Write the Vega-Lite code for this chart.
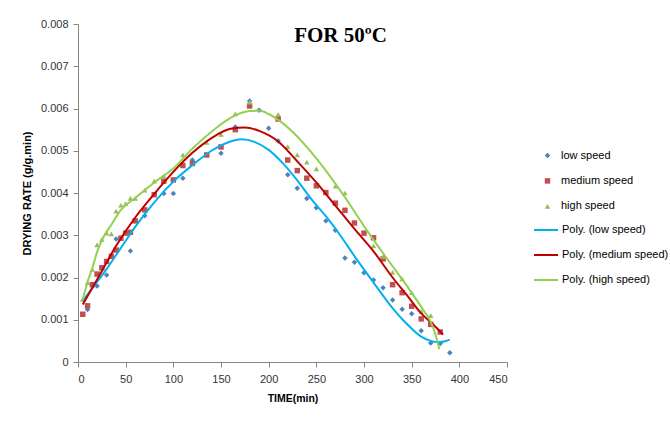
{
  "$schema": "https://vega.github.io/schema/vega-lite/v6.json",
  "width": 429,
  "height": 338,
  "autosize": {"type": "none"},
  "padding": {"left": 78, "top": 24, "right": 163, "bottom": 59},
  "background": "white",
  "title": {
    "text": "FOR 50ºC",
    "font": "Liberation Serif",
    "fontSize": 21,
    "fontWeight": "bold",
    "color": "#000000",
    "anchor": "middle",
    "frame": "group",
    "dx": 48,
    "dy": 32
  },
  "datasets": {
    "points": [
      {"speed": "low speed", "time": 10, "rate": 0.00124},
      {"speed": "low speed", "time": 20, "rate": 0.00180},
      {"speed": "low speed", "time": 30, "rate": 0.00206},
      {"speed": "low speed", "time": 40, "rate": 0.00291},
      {"speed": "low speed", "time": 55, "rate": 0.00263},
      {"speed": "low speed", "time": 70, "rate": 0.00346},
      {"speed": "low speed", "time": 90, "rate": 0.00399},
      {"speed": "low speed", "time": 100, "rate": 0.00399},
      {"speed": "low speed", "time": 110, "rate": 0.00435},
      {"speed": "low speed", "time": 120, "rate": 0.00478},
      {"speed": "low speed", "time": 150, "rate": 0.00494},
      {"speed": "low speed", "time": 165, "rate": 0.00556},
      {"speed": "low speed", "time": 180, "rate": 0.00618},
      {"speed": "low speed", "time": 190, "rate": 0.00596},
      {"speed": "low speed", "time": 200, "rate": 0.00553},
      {"speed": "low speed", "time": 210, "rate": 0.00523},
      {"speed": "low speed", "time": 220, "rate": 0.00443},
      {"speed": "low speed", "time": 230, "rate": 0.00411},
      {"speed": "low speed", "time": 240, "rate": 0.00387},
      {"speed": "low speed", "time": 250, "rate": 0.00365},
      {"speed": "low speed", "time": 260, "rate": 0.00334},
      {"speed": "low speed", "time": 270, "rate": 0.00312},
      {"speed": "low speed", "time": 280, "rate": 0.00246},
      {"speed": "low speed", "time": 290, "rate": 0.00236},
      {"speed": "low speed", "time": 300, "rate": 0.00211},
      {"speed": "low speed", "time": 310, "rate": 0.00194},
      {"speed": "low speed", "time": 320, "rate": 0.00176},
      {"speed": "low speed", "time": 330, "rate": 0.00147},
      {"speed": "low speed", "time": 340, "rate": 0.00125},
      {"speed": "low speed", "time": 350, "rate": 0.00114},
      {"speed": "low speed", "time": 360, "rate": 0.00074},
      {"speed": "low speed", "time": 370, "rate": 0.00045},
      {"speed": "low speed", "time": 380, "rate": 0.00044},
      {"speed": "low speed", "time": 390, "rate": 0.00022},

      {"speed": "medium speed", "time": 5, "rate": 0.00113},
      {"speed": "medium speed", "time": 10, "rate": 0.00133},
      {"speed": "medium speed", "time": 15, "rate": 0.00183},
      {"speed": "medium speed", "time": 20, "rate": 0.00208},
      {"speed": "medium speed", "time": 25, "rate": 0.00223},
      {"speed": "medium speed", "time": 30, "rate": 0.00238},
      {"speed": "medium speed", "time": 35, "rate": 0.00250},
      {"speed": "medium speed", "time": 40, "rate": 0.00265},
      {"speed": "medium speed", "time": 45, "rate": 0.00293},
      {"speed": "medium speed", "time": 50, "rate": 0.00305},
      {"speed": "medium speed", "time": 55, "rate": 0.00307},
      {"speed": "medium speed", "time": 60, "rate": 0.00334},
      {"speed": "medium speed", "time": 70, "rate": 0.00360},
      {"speed": "medium speed", "time": 80, "rate": 0.00396},
      {"speed": "medium speed", "time": 90, "rate": 0.00428},
      {"speed": "medium speed", "time": 100, "rate": 0.00431},
      {"speed": "medium speed", "time": 110, "rate": 0.00465},
      {"speed": "medium speed", "time": 120, "rate": 0.00470},
      {"speed": "medium speed", "time": 135, "rate": 0.00490},
      {"speed": "medium speed", "time": 150, "rate": 0.00509},
      {"speed": "medium speed", "time": 165, "rate": 0.00550},
      {"speed": "medium speed", "time": 180, "rate": 0.00606},
      {"speed": "medium speed", "time": 210, "rate": 0.00575},
      {"speed": "medium speed", "time": 220, "rate": 0.00478},
      {"speed": "medium speed", "time": 230, "rate": 0.00453},
      {"speed": "medium speed", "time": 240, "rate": 0.00435},
      {"speed": "medium speed", "time": 250, "rate": 0.00417},
      {"speed": "medium speed", "time": 260, "rate": 0.00401},
      {"speed": "medium speed", "time": 270, "rate": 0.00376},
      {"speed": "medium speed", "time": 280, "rate": 0.00359},
      {"speed": "medium speed", "time": 290, "rate": 0.00329},
      {"speed": "medium speed", "time": 300, "rate": 0.00305},
      {"speed": "medium speed", "time": 310, "rate": 0.00294},
      {"speed": "medium speed", "time": 320, "rate": 0.00244},
      {"speed": "medium speed", "time": 330, "rate": 0.00183},
      {"speed": "medium speed", "time": 340, "rate": 0.00164},
      {"speed": "medium speed", "time": 350, "rate": 0.00132},
      {"speed": "medium speed", "time": 360, "rate": 0.00102},
      {"speed": "medium speed", "time": 370, "rate": 0.00089},
      {"speed": "medium speed", "time": 380, "rate": 0.00071},

      {"speed": "high speed", "time": 5, "rate": 0.00148},
      {"speed": "high speed", "time": 10, "rate": 0.00188},
      {"speed": "high speed", "time": 15, "rate": 0.00219},
      {"speed": "high speed", "time": 20, "rate": 0.00277},
      {"speed": "high speed", "time": 25, "rate": 0.00290},
      {"speed": "high speed", "time": 30, "rate": 0.00305},
      {"speed": "high speed", "time": 35, "rate": 0.00303},
      {"speed": "high speed", "time": 40, "rate": 0.00357},
      {"speed": "high speed", "time": 45, "rate": 0.00371},
      {"speed": "high speed", "time": 50, "rate": 0.00375},
      {"speed": "high speed", "time": 55, "rate": 0.00387},
      {"speed": "high speed", "time": 60, "rate": 0.00387},
      {"speed": "high speed", "time": 70, "rate": 0.00407},
      {"speed": "high speed", "time": 80, "rate": 0.00428},
      {"speed": "high speed", "time": 90, "rate": 0.00440},
      {"speed": "high speed", "time": 110, "rate": 0.00490},
      {"speed": "high speed", "time": 135, "rate": 0.00520},
      {"speed": "high speed", "time": 150, "rate": 0.00539},
      {"speed": "high speed", "time": 165, "rate": 0.00587},
      {"speed": "high speed", "time": 180, "rate": 0.00615},
      {"speed": "high speed", "time": 210, "rate": 0.00586},
      {"speed": "high speed", "time": 220, "rate": 0.00510},
      {"speed": "high speed", "time": 230, "rate": 0.00490},
      {"speed": "high speed", "time": 240, "rate": 0.00473},
      {"speed": "high speed", "time": 250, "rate": 0.00457},
      {"speed": "high speed", "time": 270, "rate": 0.00416},
      {"speed": "high speed", "time": 280, "rate": 0.00400},
      {"speed": "high speed", "time": 310, "rate": 0.00275},
      {"speed": "high speed", "time": 320, "rate": 0.00250},
      {"speed": "high speed", "time": 330, "rate": 0.00212},
      {"speed": "high speed", "time": 340, "rate": 0.00197},
      {"speed": "high speed", "time": 350, "rate": 0.00164},
      {"speed": "high speed", "time": 360, "rate": 0.00120},
      {"speed": "high speed", "time": 370, "rate": 0.00110}
    ],
    "trends": [
      {"trend": "Poly. (low speed)", "time": 5, "rate": 0.00145},
      {"trend": "Poly. (low speed)", "time": 15, "rate": 0.00175},
      {"trend": "Poly. (low speed)", "time": 30, "rate": 0.00220},
      {"trend": "Poly. (low speed)", "time": 45, "rate": 0.00270},
      {"trend": "Poly. (low speed)", "time": 60, "rate": 0.00320},
      {"trend": "Poly. (low speed)", "time": 80, "rate": 0.00378},
      {"trend": "Poly. (low speed)", "time": 100, "rate": 0.00427},
      {"trend": "Poly. (low speed)", "time": 120, "rate": 0.00466},
      {"trend": "Poly. (low speed)", "time": 140, "rate": 0.00500},
      {"trend": "Poly. (low speed)", "time": 160, "rate": 0.00522},
      {"trend": "Poly. (low speed)", "time": 172, "rate": 0.00527},
      {"trend": "Poly. (low speed)", "time": 185, "rate": 0.00521},
      {"trend": "Poly. (low speed)", "time": 200, "rate": 0.00502},
      {"trend": "Poly. (low speed)", "time": 215, "rate": 0.00470},
      {"trend": "Poly. (low speed)", "time": 230, "rate": 0.00430},
      {"trend": "Poly. (low speed)", "time": 245, "rate": 0.00385},
      {"trend": "Poly. (low speed)", "time": 260, "rate": 0.00345},
      {"trend": "Poly. (low speed)", "time": 275, "rate": 0.00300},
      {"trend": "Poly. (low speed)", "time": 292, "rate": 0.00244},
      {"trend": "Poly. (low speed)", "time": 310, "rate": 0.00188},
      {"trend": "Poly. (low speed)", "time": 327, "rate": 0.00136},
      {"trend": "Poly. (low speed)", "time": 345, "rate": 0.00090},
      {"trend": "Poly. (low speed)", "time": 360, "rate": 0.00060},
      {"trend": "Poly. (low speed)", "time": 370, "rate": 0.00050},
      {"trend": "Poly. (low speed)", "time": 378, "rate": 0.00047},
      {"trend": "Poly. (low speed)", "time": 385, "rate": 0.00049},
      {"trend": "Poly. (low speed)", "time": 390, "rate": 0.00053},

      {"trend": "Poly. (medium speed)", "time": 5, "rate": 0.00136},
      {"trend": "Poly. (medium speed)", "time": 20, "rate": 0.00195},
      {"trend": "Poly. (medium speed)", "time": 40, "rate": 0.00275},
      {"trend": "Poly. (medium speed)", "time": 60, "rate": 0.00342},
      {"trend": "Poly. (medium speed)", "time": 80, "rate": 0.00398},
      {"trend": "Poly. (medium speed)", "time": 100, "rate": 0.00450},
      {"trend": "Poly. (medium speed)", "time": 120, "rate": 0.00495},
      {"trend": "Poly. (medium speed)", "time": 140, "rate": 0.00530},
      {"trend": "Poly. (medium speed)", "time": 160, "rate": 0.00552},
      {"trend": "Poly. (medium speed)", "time": 175, "rate": 0.00555},
      {"trend": "Poly. (medium speed)", "time": 190, "rate": 0.00547},
      {"trend": "Poly. (medium speed)", "time": 210, "rate": 0.00522},
      {"trend": "Poly. (medium speed)", "time": 230, "rate": 0.00475},
      {"trend": "Poly. (medium speed)", "time": 250, "rate": 0.00425},
      {"trend": "Poly. (medium speed)", "time": 270, "rate": 0.00370},
      {"trend": "Poly. (medium speed)", "time": 290, "rate": 0.00315},
      {"trend": "Poly. (medium speed)", "time": 310, "rate": 0.00262},
      {"trend": "Poly. (medium speed)", "time": 330, "rate": 0.00200},
      {"trend": "Poly. (medium speed)", "time": 345, "rate": 0.00158},
      {"trend": "Poly. (medium speed)", "time": 360, "rate": 0.00115},
      {"trend": "Poly. (medium speed)", "time": 372, "rate": 0.00090},
      {"trend": "Poly. (medium speed)", "time": 383, "rate": 0.00065},

      {"trend": "Poly. (high speed)", "time": 5, "rate": 0.00148},
      {"trend": "Poly. (high speed)", "time": 10, "rate": 0.00190},
      {"trend": "Poly. (high speed)", "time": 15, "rate": 0.00222},
      {"trend": "Poly. (high speed)", "time": 20, "rate": 0.00260},
      {"trend": "Poly. (high speed)", "time": 27, "rate": 0.00297},
      {"trend": "Poly. (high speed)", "time": 35, "rate": 0.00325},
      {"trend": "Poly. (high speed)", "time": 45, "rate": 0.00360},
      {"trend": "Poly. (high speed)", "time": 60, "rate": 0.00388},
      {"trend": "Poly. (high speed)", "time": 80, "rate": 0.00425},
      {"trend": "Poly. (high speed)", "time": 100, "rate": 0.00458},
      {"trend": "Poly. (high speed)", "time": 120, "rate": 0.00505},
      {"trend": "Poly. (high speed)", "time": 140, "rate": 0.00545},
      {"trend": "Poly. (high speed)", "time": 160, "rate": 0.00578},
      {"trend": "Poly. (high speed)", "time": 180, "rate": 0.00594},
      {"trend": "Poly. (high speed)", "time": 190, "rate": 0.00595},
      {"trend": "Poly. (high speed)", "time": 200, "rate": 0.00587},
      {"trend": "Poly. (high speed)", "time": 212, "rate": 0.00570},
      {"trend": "Poly. (high speed)", "time": 225, "rate": 0.00545},
      {"trend": "Poly. (high speed)", "time": 250, "rate": 0.00482},
      {"trend": "Poly. (high speed)", "time": 280, "rate": 0.00390},
      {"trend": "Poly. (high speed)", "time": 305, "rate": 0.00305},
      {"trend": "Poly. (high speed)", "time": 325, "rate": 0.00242},
      {"trend": "Poly. (high speed)", "time": 345, "rate": 0.00180},
      {"trend": "Poly. (high speed)", "time": 362, "rate": 0.00124},
      {"trend": "Poly. (high speed)", "time": 370, "rate": 0.00095},
      {"trend": "Poly. (high speed)", "time": 375, "rate": 0.00065},
      {"trend": "Poly. (high speed)", "time": 379, "rate": 0.00030}
    ]
  },
  "encoding": {
    "x": {
      "field": "time",
      "type": "quantitative",
      "scale": {"domain": [0, 450], "nice": false, "zero": false},
      "axis": {
        "values": [0, 50, 100, 150, 200, 250, 300, 350, 400, 450],
        "title": "TIME(min)",
        "labelPadding": 6,
        "titlePadding": 9
      }
    },
    "y": {
      "field": "rate",
      "type": "quantitative",
      "scale": {"domain": [0, 0.008], "nice": false},
      "axis": {
        "values": [0, 0.001, 0.002, 0.003, 0.004, 0.005, 0.006, 0.007, 0.008],
        "format": ".3~f",
        "title": "DRYING RATE (g/g.min)",
        "titleFontSize": 11,
        "labelPadding": 5,
        "titlePadding": 8
      }
    }
  },
  "layer": [
    {
      "data": {"name": "points"},
      "mark": {"type": "point", "filled": true, "size": 30, "opacity": 1},
      "encoding": {
        "color": {
          "field": "speed",
          "type": "nominal",
          "scale": {
            "domain": ["low speed", "medium speed", "high speed"],
            "range": ["#4F81BD", "#C0504D", "#9BBB59"]
          },
          "legend": {
            "orient": "none",
            "legendX": 464,
            "legendY": 126,
            "title": null,
            "padding": 0,
            "rowPadding": 13.4,
            "labelOffset": 8,
            "symbolSize": 30
          }
        },
        "shape": {
          "field": "speed",
          "type": "nominal",
          "scale": {
            "domain": ["low speed", "medium speed", "high speed"],
            "range": ["diamond", "square", "triangle-up"]
          },
          "legend": {
            "orient": "none",
            "legendX": 464,
            "legendY": 126,
            "title": null,
            "padding": 0,
            "rowPadding": 13.4,
            "labelOffset": 8,
            "symbolSize": 30
          }
        }
      }
    },
    {
      "data": {"name": "trends"},
      "mark": {"type": "line", "strokeWidth": 2, "interpolate": "monotone"},
      "encoding": {
        "color": {
          "field": "trend",
          "type": "nominal",
          "scale": {
            "domain": ["Poly. (low speed)", "Poly. (medium speed)", "Poly. (high speed)"],
            "range": ["#00B0F0", "#C00000", "#92D050"]
          },
          "legend": {
            "orient": "none",
            "legendX": 455,
            "legendY": 193,
            "title": null,
            "padding": 0,
            "rowPadding": 7,
            "labelOffset": 3,
            "symbolType": "stroke",
            "symbolSize": 576,
            "symbolStrokeWidth": 2
          }
        }
      }
    }
  ],
  "resolve": {"scale": {"color": "independent", "shape": "independent"}},
  "config": {
    "view": {"stroke": null},
    "axis": {
      "grid": false,
      "domainColor": "#868686",
      "tickColor": "#868686",
      "tickSize": 5,
      "labelFont": "Liberation Sans",
      "labelFontSize": 11,
      "labelColor": "#333333",
      "titleFont": "Liberation Sans",
      "titleFontSize": 10.5,
      "titleFontWeight": "bold",
      "titleColor": "#000000"
    },
    "legend": {
      "labelFont": "Liberation Sans",
      "labelFontSize": 11,
      "labelColor": "#000000"
    }
  }
}
